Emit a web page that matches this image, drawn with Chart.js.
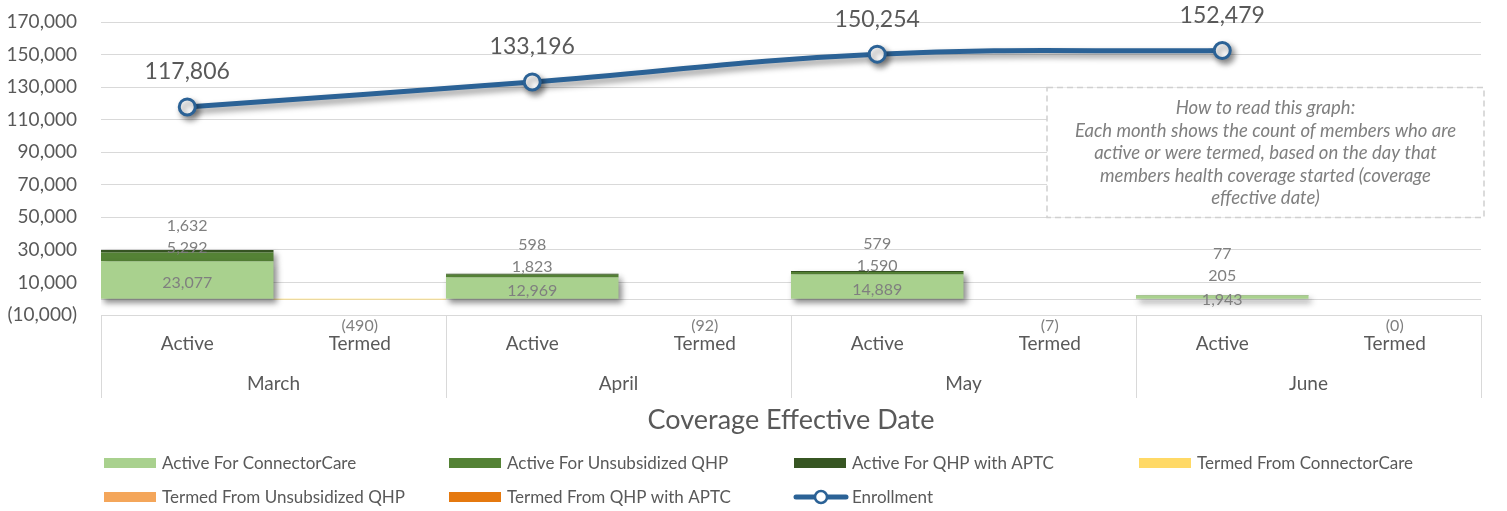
<!DOCTYPE html>
<html>
<head>
<meta charset="utf-8">
<script src="https://cdn.jsdelivr.net/npm/chart.js@4.4.1/dist/chart.umd.min.js"></script>
<style>
  body { margin: 0; background: #fff; }
  canvas { display: block; }
</style>
</head>
<body>
<canvas id="enrollChart" width="1507" height="511"></canvas>
<script>
// Values
const months = ['March', 'April', 'May', 'June'];
const stages = ['Active', 'Termed'];

const activeConnectorCare = [23077, 12969, 14889, 1943];
const activeUnsubsidized = [5292, 1823, 1590, 205];
const activeAPTC = [1632, 598, 579, 77];
const termedConnectorCare = [-490, -92, -7, 0];
const termedUnsubsidized = [0, 0, 0, 0];
const termedAPTC = [0, 0, 0, 0];
const enrollment = [117806, 133196, 150254, 152479];

const yTicks = { min: -10000, max: 170000, step: 20000 };

const noteLines = [
    'How to read this graph:',
    'Each month shows the count of members who are',
    'active or were termed, based on the day that',
    'members health coverage started (coverage',
    'effective date)'
];

const FONT = 'Lato, "Open Sans", sans-serif';
const TEXT = '#595959';
const GRID = '#d9d9d9';

// Spread month values over the Active / Termed slots
const labels = [];
months.forEach(() => stages.forEach(s => labels.push(s)));
const onActive = arr => arr.flatMap(v => [v, null]);
const onTermed = arr => arr.flatMap(v => [null, v]);

const fmt = v => v.toLocaleString('en-US');
const fmtAxis = v => v < 0 ? '(' + fmt(-v) + ')' : fmt(v);

const comboPlugin = {
    id: 'combo',
    beforeDatasetsDraw(chart) {
        const { ctx, chartArea, scales } = chart;
        const y = scales.y;
        ctx.save();
        // zero line
        ctx.strokeStyle = GRID;
        ctx.lineWidth = 1;
        ctx.beginPath();
        const z = Math.round(y.getPixelForValue(0)) + 0.5;
        ctx.moveTo(chartArea.left, z);
        ctx.lineTo(chartArea.right, z);
        ctx.stroke();

        // "how to read" box
        const right = chartArea.right + 3;
        const left = right - 437;
        const top = Math.round(y.getPixelForValue(130000)) + 0.5;
        const bottom = Math.round(y.getPixelForValue(50000)) + 0.5;
        ctx.fillStyle = '#fff';
        ctx.fillRect(left, top, right - left, bottom - top);
        ctx.setLineDash([6, 4]);
        ctx.strokeStyle = '#d0d0d0';
        ctx.lineWidth = 1.5;
        ctx.strokeRect(left, top, right - left, bottom - top);
        ctx.setLineDash([]);
        ctx.fillStyle = '#7f7f7f';
        ctx.font = 'italic 18.5px ' + FONT;
        ctx.textAlign = 'center';
        ctx.textBaseline = 'middle';
        noteLines.forEach((t, i) => ctx.fillText(t, (left + right) / 2, top + 21 + i * 22.5));
        ctx.restore();
    },
    beforeDatasetDraw(chart, args) {
        const ctx = chart.ctx;
        ctx.save();
        if (args.index >= 3 && args.index <= 5) return; // no shadow on termed bars
        ctx.shadowColor = 'rgba(0,0,0,0.45)';
        ctx.shadowBlur = 6;
        ctx.shadowOffsetX = 3;
        ctx.shadowOffsetY = 4;
    },
    afterDatasetDraw(chart) {
        chart.ctx.restore();
    },
    afterDatasetsDraw(chart) {
        const ctx = chart.ctx;
        ctx.save();
        ctx.textAlign = 'center';
        ctx.textBaseline = 'middle';

        // bar labels (Active stacks)
        ctx.font = '16px ' + FONT;
        ctx.fillStyle = '#7f7f7f';
        const m0 = chart.getDatasetMeta(0), m1 = chart.getDatasetMeta(1), m2 = chart.getDatasetMeta(2);
        months.forEach((m, i) => {
            const k = i * 2;
            const e0 = m0.data[k], e2 = m2.data[k];
            const y1 = (e0.y + e0.base) / 2 + 3;
            const y2 = Math.min(e2.y - 2, y1 - 24);
            const y3 = y2 - 22;
            ctx.fillText(fmt(activeConnectorCare[i]), e0.x, y1);
            ctx.fillText(fmt(activeUnsubsidized[i]), m1.data[k].x, y2);
            ctx.fillText(fmt(activeAPTC[i]), e2.x, y3);
        });

        // termed labels
        const mt = chart.getDatasetMeta(3);
        months.forEach((m, i) => {
            const e = mt.data[i * 2 + 1];
            ctx.fillText('(' + fmt(Math.abs(termedConnectorCare[i])) + ')', e.x, e.base + 27);
        });

        // enrollment labels
        ctx.font = '23px ' + FONT;
        ctx.fillStyle = TEXT;
        const ml = chart.getDatasetMeta(6);
        months.forEach((m, i) => {
            const p = ml.data[i * 2];
            ctx.fillText(fmt(enrollment[i]), p.x, p.y - 35);
        });
        ctx.restore();
    },
    afterDraw(chart) {
        const { ctx, chartArea } = chart;
        const colW = chartArea.width / months.length;
        ctx.save();
        // month separators
        ctx.strokeStyle = GRID;
        ctx.lineWidth = 1;
        for (let i = 0; i <= months.length; i++) {
            const x = Math.round(chartArea.left + i * colW) + 0.5;
            ctx.beginPath();
            ctx.moveTo(x, chartArea.bottom);
            ctx.lineTo(x, chartArea.bottom + 83);
            ctx.stroke();
        }
        // month labels
        ctx.fillStyle = TEXT;
        ctx.font = '19px ' + FONT;
        ctx.textAlign = 'center';
        ctx.textBaseline = 'middle';
        months.forEach((m, i) => ctx.fillText(m, chartArea.left + (i + 0.5) * colW, chartArea.bottom + 69));

        // axis title
        ctx.font = '27px ' + FONT;
        ctx.fillText('Coverage Effective Date', (chartArea.left + chartArea.right) / 2, chartArea.bottom + 105);

        // legend
        ctx.font = '17px ' + FONT;
        ctx.textAlign = 'left';
        chart.data.datasets.forEach((ds, i) => {
            const row = Math.floor(i / 4), col = i % 4;
            const x = chartArea.left + col * colW + 3;
            const y = chart.height - 48 + row * 34;
            if (ds.type === 'line') {
                ctx.strokeStyle = ds.borderColor;
                ctx.lineWidth = 5;
                ctx.lineCap = 'round';
                ctx.beginPath();
                ctx.moveTo(x + 2, y);
                ctx.lineTo(x + 52, y);
                ctx.stroke();
                ctx.fillStyle = '#fff';
                ctx.lineWidth = 2.5;
                ctx.beginPath();
                ctx.arc(x + 27, y, 6, 0, Math.PI * 2);
                ctx.fill();
                ctx.stroke();
            } else {
                ctx.fillStyle = ds.backgroundColor;
                ctx.fillRect(x, y - 5, 52, 10);
            }
            ctx.fillStyle = TEXT;
            ctx.fillText(ds.label, x + 58, y + 1);
        });
        ctx.restore();
    }
};

const barSet = (label, data, color) => ({
    type: 'bar',
    label: label,
    data: data,
    backgroundColor: color,
    stack: 'members',
    order: 1,
    inflateAmount: 0,
    categoryPercentage: 1,
    barPercentage: 1
});

new Chart(document.getElementById('enrollChart'), {
    data: {
        labels: labels,
        datasets: [
            barSet('Active For ConnectorCare', onActive(activeConnectorCare), '#a9d18e'),
            barSet('Active For Unsubsidized QHP', onActive(activeUnsubsidized), '#548235'),
            barSet('Active For QHP with APTC', onActive(activeAPTC), '#375623'),
            barSet('Termed From ConnectorCare', onTermed(termedConnectorCare), '#ffd966'),
            barSet('Termed From Unsubsidized QHP', onTermed(termedUnsubsidized), '#f4a65a'),
            barSet('Termed From QHP with APTC', onTermed(termedAPTC), '#e5790f'),
            {
                type: 'line',
                label: 'Enrollment',
                data: onActive(enrollment),
                stack: 'enrollment',
                order: 0,
                borderColor: '#2b6296',
                borderWidth: 5,
                tension: 0.4,
                spanGaps: true,
                pointRadius: 8,
                pointBorderWidth: 3,
                pointBackgroundColor: '#fff',
                pointBorderColor: '#2b6296'
            }
        ]
    },
    options: {
        responsive: false,
        animation: false,
        devicePixelRatio: 1,
        layout: { padding: { top: 22, right: 26, left: 0, bottom: 0 } },
        plugins: {
            legend: { display: false },
            tooltip: { enabled: false }
        },
        scales: {
            x: {
                stacked: true,
                grid: { display: false, drawTicks: false },
                border: { display: false },
                ticks: { color: TEXT, font: { family: FONT, size: 19 }, padding: 17 },
                afterFit: scale => { scale.height = 196; }
            },
            y: {
                stacked: true,
                min: yTicks.min,
                max: yTicks.max,
                grid: { color: GRID, drawTicks: false },
                border: { display: false },
                ticks: {
                    stepSize: yTicks.step,
                    color: TEXT,
                    font: { family: FONT, size: 19 },
                    padding: 24,
                    callback: v => fmtAxis(v)
                },
                afterFit: scale => {
                    scale.width = 101;
                    scale.paddingTop = 0;
                    scale.paddingBottom = 0;
                }
            }
        }
    },
    plugins: [comboPlugin]
});
</script>
</body>
</html>
